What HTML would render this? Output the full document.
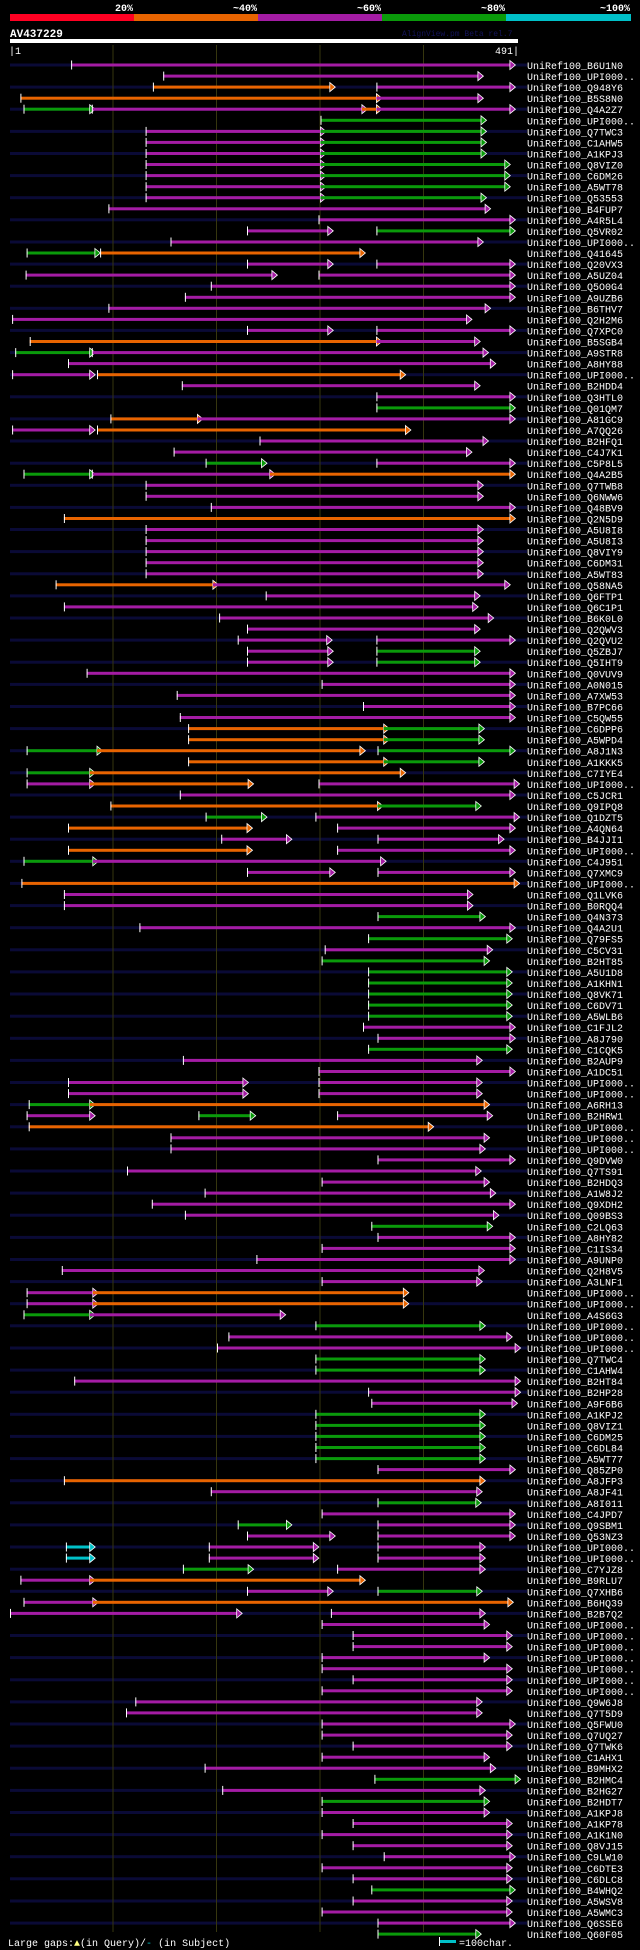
<!DOCTYPE html>
<html><head><meta charset="utf-8">
<style>
html,body{margin:0;padding:0;background:#000;}
body{width:640px;height:1950px;overflow:hidden;}
svg{display:block;}
text{font-family:"Liberation Mono","DejaVu Sans Mono",monospace;}
</style></head>
<body>
<svg id="chart" width="640" height="1950" viewBox="0 0 640 1950" xmlns="http://www.w3.org/2000/svg">
<rect x="0" y="0" width="640" height="1950" fill="#000"/>
<g>
<rect x="10" y="14" width="124" height="7" fill="#ff0022"/>
<rect x="134" y="14" width="124" height="7" fill="#e86400"/>
<rect x="258" y="14" width="124" height="7" fill="#a41ca4"/>
<rect x="382" y="14" width="124" height="7" fill="#0a9a0a"/>
<rect x="506" y="14" width="125" height="7" fill="#00c0c8"/>
<text x="133" y="11" fill="#fff" font-size="10" font-weight="bold" text-anchor="end">20%</text>
<text x="257" y="11" fill="#fff" font-size="10" font-weight="bold" text-anchor="end">~40%</text>
<text x="381" y="11" fill="#fff" font-size="10" font-weight="bold" text-anchor="end">~60%</text>
<text x="505" y="11" fill="#fff" font-size="10" font-weight="bold" text-anchor="end">~80%</text>
<text x="630" y="11" fill="#fff" font-size="10" font-weight="bold" text-anchor="end">~100%</text>
</g>
<text x="10" y="37" fill="#fff" font-size="11" font-weight="bold">AV437229</text>
<text x="402" y="36" fill="#14145a" font-size="8">AlignView.pm Beta rel.7</text>
<rect x="10" y="39" width="508" height="4" fill="#fff"/>
<text x="9" y="54" fill="#fff" font-size="10">|1</text>
<text x="519" y="54" fill="#fff" font-size="10" text-anchor="end">491|</text>
<g id="stripes"></g>
<g id="grid"></g>
<g id="rows"></g>
<g>
<text x="8" y="1946" fill="#fff" font-size="10">Large gaps:<tspan fill="#ffff80">▲</tspan>(in Query)/<tspan fill="#00c0c8">-</tspan> (in Subject)</text>
<rect x="439" y="1940" width="17" height="3" fill="#00c0c8"/>
<rect x="439" y="1937" width="1" height="9" fill="#fff"/>
<text x="459" y="1946" fill="#fff" font-size="10">=100char.</text>
</g>
</svg>
<script>
const gridTicks = [100, 200, 300, 400];
const rowNames = ["B6U1N0","UPI000..","Q948Y6","B5S8N0","Q4A2Z7","UPI000..","Q7TWC3","C1AHW5","A1KPJ3","Q8VIZ0","C6DM26","A5WT78","Q53553","B4FUP7","A4R5L4","Q5VR02","UPI000..","Q41645","Q20VX3","A5UZ04","Q5O0G4","A9UZB6","B6THV7","Q2H2M6","Q7XPC0","B5SGB4","A9STR8","A8HY88","UPI000..","B2HDD4","Q3HTL0","Q01QM7","A81GC9","A7QQ26","B2HFQ1","C4J7K1","C5P8L5","Q4A2B5","Q7TWB8","Q6NWW6","Q48BV9","Q2N5D9","A5U8I8","A5U8I3","Q8VIY9","C6DM31","A5WT83","Q58NA5","Q6FTP1","Q6C1P1","B6K0L0","Q2QWV3","Q2QVU2","Q5ZBJ7","Q5IHT9","Q0VUV9","A0N015","A7XW53","B7PC66","C5QW55","C6DPP6","A5WPD4","A8J1N3","A1KKK5","C7IYE4","UPI000..","C5JCR1","Q9IPQ8","Q1DZT5","A4QN64","B4JJI1","UPI000..","C4J951","Q7XMC9","UPI000..","Q1LVK6","B0RQQ4","Q4N373","Q4A2U1","Q79FS5","C5CV31","B2HT85","A5U1D8","A1KHN1","Q8VK71","C6DV71","A5WLB6","C1FJL2","A8J790","C1CQK5","B2AUP9","A1DC51","UPI000..","UPI000..","A6RH13","B2HRW1","UPI000..","UPI000..","UPI000..","Q9DVW0","Q7TS91","B2HDQ3","A1W8J2","Q9XDH2","Q09BS3","C2LQ63","A8HY82","C1IS34","A9UNP0","Q2H8V5","A3LNF1","UPI000..","UPI000..","A4S6G3","UPI000..","UPI000..","UPI000..","Q7TWC4","C1AHW4","B2HT84","B2HP28","A9F6B6","A1KPJ2","Q8VIZ1","C6DM25","C6DL84","A5WT77","Q85ZP0","A8JFP3","A8JF41","A8I011","C4JPD7","Q9SBM1","Q53NZ3","UPI000..","UPI000..","C7YJZ8","B9RLU7","Q7XHB6","B6HQ39","B2B7Q2","UPI000..","UPI000..","UPI000..","UPI000..","UPI000..","UPI000..","UPI000..","Q9W6J8","Q7T5D9","Q5FWU0","Q7UQ27","Q7TWK6","C1AHX1","B9MHX2","B2HMC4","B2HG27","B2HDT7","A1KPJ8","A1KP78","A1K1N0","Q8VJ15","C9LW10","C6DTE3","C6DLC8","B4WHQ2","A5WSV8","A5WMC3","Q6SSE6","Q60F05"];
const segStarts = [[60],[149],[139,355],[11,355],[14,80,341,355],[301],[132,301],[132,301],[132,301],[132,301],[132,301],[132,301],[132,301],[96],[299],[230,355],[156],[17,88],[230,355],[16,299],[195],[170],[96],[3],[230,355],[20,355],[6,80],[57],[3,85],[167],[355],[355],[98,182],[3,85],[242],[159],[190,355],[14,80,252],[132],[132],[195],[53],[132],[132],[132],[132],[132],[45,197],[248],[53],[203],[230],[221,355],[230,355],[230,355],[75],[302],[162],[342],[165],[173,362],[173,362],[17,85,356],[173,362],[17,78],[17,78,299],[165],[98,356],[190,296],[57,317],[205,356],[57,317],[14,81],[230,356],[12],[53],[53],[356],[126],[347],[305],[302],[347],[347],[347],[347],[347],[342],[356],[347],[168],[299],[57,299],[57,299],[19,78],[17,183,317],[19],[156],[156],[356],[114],[302],[189],[138],[170],[350],[356],[302],[239],[51],[302],[17,81],[17,81],[14,78],[296],[212],[201],[296],[296],[63],[347],[350],[296],[296],[296],[296],[296],[356],[53],[195],[356],[302],[221,356],[230,356],[55,193,356],[55,193,356],[168,317],[11,78],[230,356],[14,81],[1,311],[302],[332],[332],[302],[302],[332],[302],[122],[113],[302],[302],[332],[302],[189],[353],[206],[302],[302],[332],[302],[332],[362],[302],[332],[350],[332],[302],[356],[356]];
const segEnds = [[484],[453],[310,484],[355,453],[78,341,355,484],[456],[301,456],[301,456],[301,456],[301,479],[301,479],[301,479],[301,456],[460],[484],[308,484],[453],[83,339],[308,484],[254,484],[484],[484],[460],[442],[308,484],[355,450],[78,458],[465],[78,378],[450],[484],[484],[182,484],[78,383],[458],[442],[244,484],[78,252,484],[453],[453],[484],[484],[453],[453],[453],[453],[453],[197,479],[450],[448],[463],[450],[307,484],[308,450],[308,450],[484],[484],[484],[484],[484],[362,454],[362,454],[85,339,484],[362,454],[78,378],[78,231,488],[484],[356,451],[244,488],[230,484],[268,473],[230,484],[81,359],[310,484],[488],[443],[443],[455],[484],[481],[462],[459],[481],[481],[481],[481],[481],[484],[484],[481],[452],[484],[226,452],[226,452],[78,459],[78,233,462],[405],[459],[455],[484],[451],[459],[465],[484],[468],[462],[484],[484],[484],[454],[452],[81,381],[81,381],[78,262],[455],[481],[489],[455],[455],[489],[489],[486],[455],[455],[455],[455],[455],[484],[455],[452],[451],[484],[268,484],[310,484],[78,294,455],[78,294,455],[231,455],[78,339],[308,452],[81,482],[220,455],[459],[481],[481],[459],[481],[481],[481],[452],[452],[484],[481],[481],[459],[465],[489],[455],[459],[459],[481],[481],[481],[484],[481],[481],[484],[481],[481],[484],[451]];
const segColors = [["p"],["p"],["o","p"],["o","p"],["g","p","o","p"],["g"],["p","g"],["p","g"],["p","g"],["p","g"],["p","g"],["p","g"],["p","g"],["p"],["p"],["p","g"],["p"],["g","o"],["p","p"],["p","p"],["p"],["p"],["p"],["p"],["p","p"],["o","p"],["g","p"],["p"],["p","o"],["p"],["p"],["g"],["o","p"],["p","o"],["p"],["p"],["g","p"],["g","p","o"],["p"],["p"],["p"],["o"],["p"],["p"],["p"],["p"],["p"],["o","p"],["p"],["p"],["p"],["p"],["p","p"],["p","g"],["p","g"],["p"],["p"],["p"],["p"],["p"],["o","g"],["o","g"],["g","o","g"],["o","g"],["g","o"],["p","o","p"],["p"],["o","g"],["g","p"],["o","p"],["p","p"],["o","p"],["g","p"],["p","p"],["o"],["p"],["p"],["g"],["p"],["g"],["p"],["g"],["g"],["g"],["g"],["g"],["g"],["p"],["p"],["g"],["p"],["p"],["p","p"],["p","p"],["g","o"],["p","g","p"],["o"],["p"],["p"],["p"],["p"],["p"],["p"],["p"],["p"],["g"],["p"],["p"],["p"],["p"],["p"],["p","o"],["p","o"],["g","p"],["g"],["p"],["p"],["g"],["g"],["p"],["p"],["p"],["g"],["g"],["g"],["g"],["g"],["p"],["o"],["p"],["g"],["p"],["g","p"],["p","p"],["c","p","p"],["c","p","p"],["g","p"],["p","o"],["p","g"],["p","o"],["p","p"],["p"],["p"],["p"],["p"],["p"],["p"],["p"],["p"],["p"],["p"],["p"],["p"],["p"],["p"],["g"],["p"],["g"],["p"],["p"],["p"],["p"],["p"],["p"],["p"],["g"],["p"],["p"],["p"],["g"]];

const COLORS = {p:"#a41ca4", o:"#e86400", g:"#0a9a0a", c:"#00c0c8", r:"#ff0022"};
const NS = "http://www.w3.org/2000/svg";
const ROW0 = 65, ROWH = 11.06;
function xScale(r){ return 9 + r * 1.035; }
function yRow(i){ return ROW0 + i * ROWH; }
function mk(tag, attrs, parent){
  const e = document.createElementNS(NS, tag);
  for (const k in attrs) e.setAttribute(k, attrs[k]);
  parent.appendChild(e);
  return e;
}
const stripes = document.getElementById('stripes');
const grid = document.getElementById('grid');
const rowsG = document.getElementById('rows');

for (let i = 0; i < rowNames.length; i += 2) {
  const s = mk('rect', {x:10, y:(yRow(i)-1.5).toFixed(1), width:517, height:3, fill:"#0a0a36"}, stripes);
  
  
}
gridTicks.forEach(t => {
  const l = mk('rect', {x:xScale(t).toFixed(1), y:45, width:1, height:1887, fill:"#36360e"}, grid);
  
  
});

rowNames.forEach((name, i) => {
  const y = yRow(i);
  const g = mk('g', {}, rowsG);
  
  
  const st = segStarts[i] || [], en = segEnds[i] || [], co = segColors[i] || [];
  st.forEach((s, j) => {
    const x0 = xScale(s), x1 = xScale(en[j]);
    const c = COLORS[co[j]];
    const bar = mk('rect', {x:x0.toFixed(1), y:(y-1.5).toFixed(1), width:Math.max(1, x1-x0).toFixed(1), height:3, fill:c}, g);
    
    
    const tri = mk('polygon', {points:`${x1.toFixed(1)},${(y-4.5).toFixed(1)} ${(x1+5.5).toFixed(1)},${y.toFixed(1)} ${x1.toFixed(1)},${(y+4.5).toFixed(1)}`, fill:c, stroke:"#fff", 'stroke-width':0.8}, g);
    
    
    if (j === 0 || st[j] !== en[j-1]) {
      const tk = mk('rect', {x:x0.toFixed(1), y:(y-4.5).toFixed(1), width:1, height:9, fill:"#fff"}, g);
      
      
    }
  });
  const t = mk('text', {x:527, y:(y+4).toFixed(1), fill:"#fff", 'font-size':10}, g);
  t.textContent = 'UniRef100_' + name;
  
  
});
</script>
</body></html>
